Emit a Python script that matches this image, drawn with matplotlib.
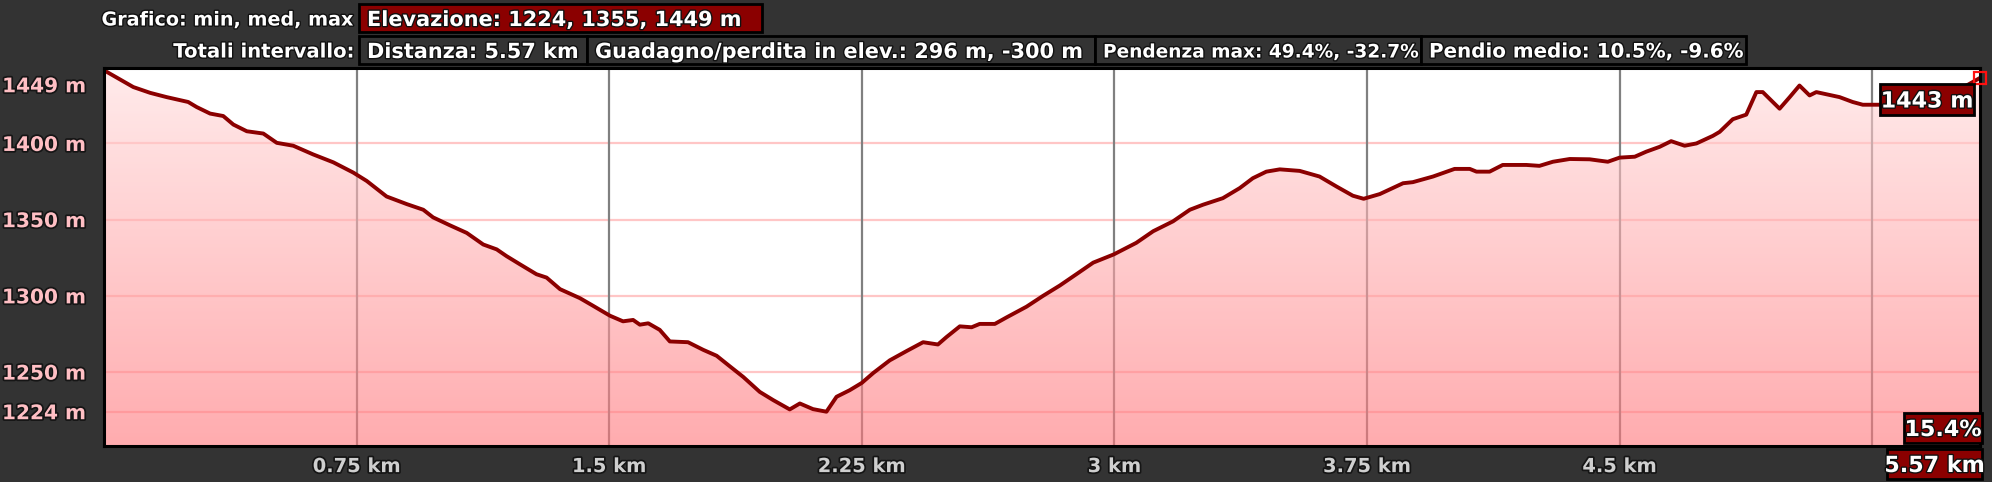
import numpy as np
import matplotlib
matplotlib.use("Agg")
import matplotlib.pyplot as plt
from matplotlib.patches import Rectangle, Polygon
import matplotlib.patheffects as pe
from matplotlib.transforms import ScaledTranslation

# ---------------- data ----------------
dist_km = [0.0, 0.087, 0.137, 0.186, 0.250, 0.275, 0.315, 0.354, 0.384, 0.424,
           0.473, 0.513, 0.562, 0.621, 0.681, 0.740, 0.780, 0.839, 0.899, 0.948,
           0.977, 1.027, 1.077, 1.126, 1.166, 1.195, 1.235, 1.284, 1.314, 1.354,
           1.413, 1.452, 1.502, 1.541, 1.571, 1.591, 1.616, 1.650, 1.680, 1.734,
           1.779, 1.819, 1.858, 1.898, 1.947, 1.987, 2.036, 2.066, 2.105, 2.145,
           2.175, 2.214, 2.250, 2.284, 2.333, 2.383, 2.432, 2.476, 2.501, 2.541,
           2.576, 2.600, 2.645, 2.680, 2.739, 2.788, 2.838, 2.887, 2.937, 2.998,
           3.065, 3.115, 3.174, 3.224, 3.263, 3.322, 3.372, 3.411, 3.451, 3.491,
           3.550, 3.609, 3.659, 3.708, 3.740, 3.788, 3.857, 3.886, 3.946, 4.010,
           4.055, 4.075, 4.114, 4.153, 4.223, 4.262, 4.302, 4.352, 4.411, 4.441,
           4.465, 4.500, 4.545, 4.579, 4.619, 4.653, 4.693, 4.728, 4.777, 4.797,
           4.836, 4.876, 4.906, 4.925, 4.975, 5.005, 5.034, 5.064, 5.084, 5.153,
           5.192, 5.222, 5.272, 5.420, 5.534, 5.570]
elev_m = [1448.0, 1437.0, 1433.2, 1430.4, 1427.2, 1423.9, 1419.6, 1418.0, 1412.4, 1408.0,
          1406.5, 1400.4, 1398.5, 1392.8, 1387.6, 1380.9, 1375.4, 1365.2, 1360.2, 1356.5,
          1351.5, 1346.3, 1341.3, 1333.7, 1330.5, 1326.1, 1320.7, 1314.2, 1312.0, 1304.4,
          1298.5, 1293.5, 1287.0, 1283.3, 1284.2, 1281.1, 1282.0, 1277.7, 1270.1, 1269.6,
          1264.6, 1260.7, 1253.8, 1246.8, 1237.0, 1231.6, 1225.5, 1229.4, 1225.7, 1224.0,
          1233.8, 1238.1, 1242.9, 1249.4, 1257.7, 1263.8, 1269.6, 1268.1, 1272.9, 1280.0,
          1279.4, 1281.6, 1281.6, 1285.9, 1292.9, 1300.0, 1306.8, 1314.2, 1321.8, 1327.2,
          1334.8, 1342.4, 1348.9, 1356.5, 1359.8, 1364.1, 1370.7, 1377.2, 1381.5, 1383.0,
          1382.0, 1378.3, 1371.8, 1365.7, 1363.7, 1366.8, 1373.9, 1374.6, 1378.3, 1383.3,
          1383.3, 1381.5, 1381.5, 1385.9, 1385.9, 1385.3, 1388.0, 1389.8, 1389.6, 1388.7,
          1388.0, 1390.7, 1391.3, 1394.6, 1397.8, 1401.5, 1398.5, 1400.0, 1405.0, 1407.6,
          1415.9, 1418.9, 1433.7, 1433.7, 1422.8, 1430.4, 1438.0, 1431.5, 1433.7, 1430.4,
          1427.2, 1425.4, 1425.4, 1425.4, 1438.5, 1443.0]

y_ticks = [1224, 1250, 1300, 1350, 1400, 1449]
y_tick_labels = ["1224 m", "1250 m", "1300 m", "1350 m", "1400 m", "1449 m"]
x_ticks = [0.75, 1.5, 2.25, 3.0, 3.75, 4.5, 5.25]
x_tick_labels = ["0.75 km", "1.5 km", "2.25 km", "3 km", "3.75 km", "4.5 km", ""]

row1_label = "Grafico: min, med, max"
row1_boxes = ["Elevazione: 1224, 1355, 1449 m"]
row2_label = "Totali intervallo:"
row2_boxes = ["Distanza: 5.57 km", "Guadagno/perdita in elev.: 296 m, -300 m",
              "Pendenza max: 49.4%, -32.7%", "Pendio medio: 10.5%, -9.6%"]
cursor_elev_label = "1443 m"
cursor_grade_label = "15.4%"
cursor_dist_label = "5.57 km"

# ---------------- figure ----------------
W, H = 1992, 482
BG = "#333333"
DARKRED = "#8B0000"
fig = plt.figure(figsize=(W / 100, H / 100), dpi=100, facecolor=BG)
renderer = fig.canvas.get_renderer()

ax_l, ax_r, ax_t, ax_b = 104, 1980, 68, 446
ax = fig.add_axes([ax_l / W, 1 - ax_b / H, (ax_r - ax_l) / W, (ax_b - ax_t) / H])
ax.set_facecolor("white")
ymin, ymax = 1201.5, 1449.5
ax.set_xlim(0, 5.57)
ax.set_ylim(ymin, ymax)

# grid lines (drawn under the semi-transparent gradient fill)
for yv in y_ticks[:-1]:
    ax.axhline(yv, color="#FFC6C6", lw=1.6, zorder=1)
for xv in x_ticks:
    ax.axvline(xv, color="#808080", lw=1.6, zorder=1)

# gradient fill under the profile
a = 0.6
top_c = np.array([255, 235, 235]) / 255.0
bot_c = np.array([255, 172, 175]) / 255.0
top_g = (top_c - (1 - a)) / a
bot_g = (bot_c - (1 - a)) / a
n = 256
t = np.linspace(0, 1, n)[:, None]
grad = np.clip(top_g[None, :] * (1 - t) + bot_g[None, :] * t, 0, 1)
img = np.repeat(grad[:, None, :], 2, axis=1)
im = ax.imshow(img, extent=[0, 5.57, ymin, ymax], aspect="auto", origin="upper",
               alpha=a, zorder=2, interpolation="bilinear")
verts = np.column_stack([np.r_[dist_km, dist_km[-1], dist_km[0]],
                         np.r_[elev_m, ymin, ymin]])
clip = Polygon(verts, closed=True, transform=ax.transData, facecolor="none", edgecolor="none")
ax.add_patch(clip)
im.set_clip_path(clip)

ax.plot(dist_km, elev_m, color=DARKRED, lw=2.8, zorder=3, solid_joinstyle="round")
ax.plot([dist_km[-1]], [elev_m[-1]], marker="s", ms=9, mfc="none", mec="#FF1010",
        mew=1.6, zorder=6, clip_on=False)

for s in ax.spines.values():
    s.set_color("black")
    s.set_linewidth(2.2)
    s.set_zorder(5)

shadow = [pe.withStroke(linewidth=2.5, foreground="#151515")]
ax.set_yticks(y_ticks)
ax.set_yticklabels(y_tick_labels)
ax.set_xticks(x_ticks)
ax.set_xticklabels(x_tick_labels)
ax.tick_params(axis="both", length=0)
ax.tick_params(axis="y", pad=13, labelsize=14.5, labelcolor="#FFBFC4")
ax.tick_params(axis="x", pad=8, labelsize=14, labelcolor="#CFCFCF")
for lab in ax.get_yticklabels() + ax.get_xticklabels():
    lab.set_fontweight("bold")
    lab.set_path_effects(shadow)
top_lab = ax.get_yticklabels()[-1]
top_lab.set_transform(top_lab.get_transform() + ScaledTranslation(0, -16 / 100, fig.dpi_scale_trans))

# ---------------- header / boxes ----------------
def fx(x):
    return x / W

def fy(y):
    return 1 - y / H

txt_pe = [pe.withStroke(linewidth=2, foreground="#111111")]

def put_text(x, y, s, ha, fs, max_w=None, **kw):
    tt = fig.text(fx(x), fy(y), s, ha=ha, va="center_baseline", color="white",
                  fontsize=fs, fontweight="bold", path_effects=txt_pe, **kw)
    if max_w is not None:
        w = tt.get_window_extent(renderer=renderer).width
        if w > max_w:
            tt.set_fontsize(fs * max_w / w)
    return tt

def box(x0, y0, x1, y1, text, fc, fs=14.5, ha="left", pad=8, max_w=None):
    r = Rectangle((fx(x0), fy(y1)), (x1 - x0) / W, (y1 - y0) / H, transform=fig.transFigure,
                  facecolor=fc, edgecolor="black", lw=2, zorder=10)
    fig.add_artist(r)
    if ha == "left":
        tx = x0 + pad
    elif ha == "right":
        tx = x1 - pad
    else:
        tx = (x0 + x1) / 2
    put_text(tx, (y0 + y1) / 2, text, ha, fs, max_w=max_w, zorder=11)

put_text(354, 18, row1_label, "right", 14.5, max_w=252)
box(359, 4, 762, 32, row1_boxes[0], DARKRED, fs=15, pad=8, max_w=378)

put_text(354, 50, row2_label, "right", 14.5, max_w=182)
row2_edges = [359, 587, 1095, 1421, 1746]
for i, s in enumerate(row2_boxes):
    box(row2_edges[i], 36, row2_edges[i + 1], 64, s, "#333333", fs=15, pad=8,
        max_w=row2_edges[i + 1] - row2_edges[i] - 10)

box(1880, 84, 1974, 115, cursor_elev_label, DARKRED, fs=16, ha="center")
box(1904, 413, 1982, 443, cursor_grade_label, DARKRED, fs=16, ha="center")
box(1887, 449, 1982, 479, cursor_dist_label, DARKRED, fs=16, ha="center")

fig.savefig("out.png", dpi=100, facecolor=BG)
